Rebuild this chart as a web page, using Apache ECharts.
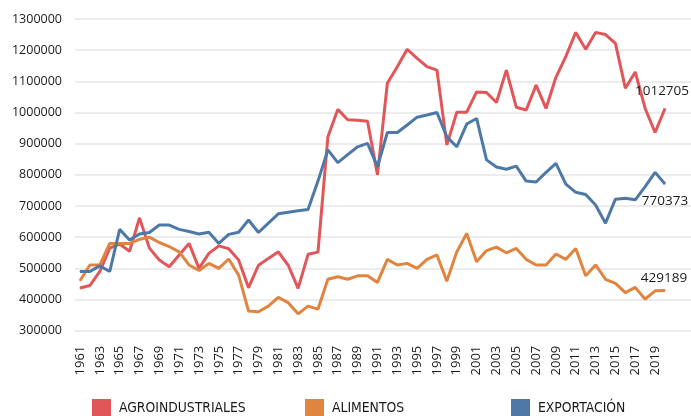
<!DOCTYPE html>
<html>
<head>
<meta charset="utf-8">
<script src="https://cdn.jsdelivr.net/npm/echarts@6/dist/echarts.min.js"></script>
<style>
html,body{margin:0;padding:0;background:#fff;}
#chart{width:691px;height:416px;}
</style>
</head>
<body>
<div id="chart"></div>
<script>
const years = [1961,1962,1963,1964,1965,1966,1967,1968,1969,1970,
  1971,1972,1973,1974,1975,1976,1977,1978,1979,1980,
  1981,1982,1983,1984,1985,1986,1987,1988,1989,1990,
  1991,1992,1993,1994,1995,1996,1997,1998,1999,2000,
  2001,2002,2003,2004,2005,2006,2007,2008,2009,2010,
  2011,2012,2013,2014,2015,2016,2017,2018,2019,2020];

const xTickLabels = [1961,1963,1965,1967,1969,1971,1973,1975,1977,1979,
  1981,1983,1985,1987,1989,1991,1993,1995,1997,1999,
  2001,2003,2005,2007,2009,2011,2013,2015,2017,2019];

const agroindustriales = [437000,445000,490000,565000,578000,555000,662000,565000,527000,505000,
  543000,580000,500000,548000,572000,563000,527000,438000,510000,532000,
  553000,510000,436000,545000,552000,922000,1010000,977000,975000,972000,
  800000,1094000,1147000,1203000,1174000,1147000,1136000,896000,1001000,1001000,
  1066000,1064000,1032000,1136000,1017000,1008000,1088000,1013000,1113000,1180000,
  1257000,1203000,1257000,1250000,1222000,1078000,1130000,1013000,936000,1012705];

const alimentos = [460000,511000,511000,580000,580000,580000,593000,600000,583000,570000,
  553000,511000,493000,516000,500000,530000,478000,363000,361000,379000,
  407000,390000,354000,379000,369000,465000,473000,465000,476000,476000,
  455000,529000,511000,516000,500000,529000,543000,459000,553000,612000,
  521000,557000,568000,550000,564000,529000,511000,511000,546000,529000,
  564000,476000,511000,465000,452000,422000,439000,401000,428000,429189];

const exportacion = [490000,490000,508000,490000,625000,591000,610000,615000,639000,639000,
  625000,618000,610000,616000,580000,609000,616000,655000,615000,645000,
  675000,680000,685000,689000,780000,880000,839000,865000,890000,901000,
  826000,936000,936000,960000,985000,992000,1000000,922000,890000,963000,
  981000,848000,825000,818000,828000,780000,777000,808000,837000,770000,
  744000,737000,703000,645000,722000,725000,720000,762000,808000,770373];

const yTicks = {min: 300000, max: 1300000, step: 100000};

const seriesNames = ['AGROINDUSTRIALES', 'ALIMENTOS', 'EXPORTACIÓN'];
const colors = ['#e15759', '#e0843f', '#4e79a7'];

function buildData(values, labelCfg) {
  return years.map((y, i) => {
    if (i === years.length - 1) {
      return {value: [y, values[i]], label: Object.assign({show: true}, labelCfg)};
    }
    return [y, values[i]];
  });
}

const labelBase = {
  color: '#1a1a1a',
  fontFamily: 'Open Sans',
  fontSize: 13.5,
  formatter: p => String(p.value[1])
};

function makeSeries(name, values, color, labelCfg) {
  return {
    name: name,
    type: 'line',
    data: buildData(values, Object.assign({}, labelBase, labelCfg)),
    showSymbol: true,
    symbol: 'circle',
    symbolSize: 1,
    itemStyle: {color: color},
    lineStyle: {color: color, width: 3},
    label: {show: false},
    emphasis: {disabled: true},
    z: 3
  };
}

const chart = echarts.init(document.getElementById('chart'), null, {renderer: 'canvas'});

const legendCommon = {
  top: 399,
  padding: 0,
  icon: 'rect',
  itemWidth: 19,
  itemHeight: 18,
  itemGap: 0,
  textStyle: {fontFamily: 'Liberation Sans Narrow, DejaVu Sans Condensed, sans-serif', fontSize: 13.8, color: '#1a1a1a', padding: [0,0,0,3]},
  selectedMode: false
};

chart.setOption({
  animation: false,
  backgroundColor: '#fff',
  grid: {left: 75, right: 0, top: 19, bottom: 85.3, containLabel: false},
  legend: [
    Object.assign({left: 92, data: [seriesNames[0]]}, legendCommon),
    Object.assign({left: 305, data: [seriesNames[1]]}, legendCommon),
    Object.assign({left: 511, data: [seriesNames[2]]}, legendCommon)
  ],
  xAxis: {
    type: 'value',
    min: 1960.496,
    max: 2022.622,
    axisLine: {show: false},
    axisTick: {show: false},
    splitLine: {show: false},
    axisLabel: {
      customValues: xTickLabels,
      rotate: 90,
      margin: 15,
      color: '#1a1a1a',
      fontFamily: 'Open Sans',
      fontSize: 13,
      formatter: v => String(v)
    }
  },
  yAxis: {
    type: 'value',
    min: yTicks.min,
    max: yTicks.max,
    interval: yTicks.step,
    axisLine: {show: false},
    axisTick: {show: false},
    splitLine: {lineStyle: {color: '#e6e6e6', width: 1.5}},
    axisLabel: {
      margin: 13,
      color: '#1a1a1a',
      fontFamily: 'Open Sans',
      fontSize: 12.5,
      formatter: v => String(v)
    }
  },
  series: [
    makeSeries(seriesNames[0], agroindustriales, colors[0], {position: 'top', distance: 10, offset: [-3, 0]}),
    makeSeries(seriesNames[1], alimentos, colors[1], {position: 'top', distance: 5, offset: [-1, 0]}),
    makeSeries(seriesNames[2], exportacion, colors[2], {position: 'bottom', distance: 10, offset: [0, 0]})
  ]
});
</script>
</body>
</html>
